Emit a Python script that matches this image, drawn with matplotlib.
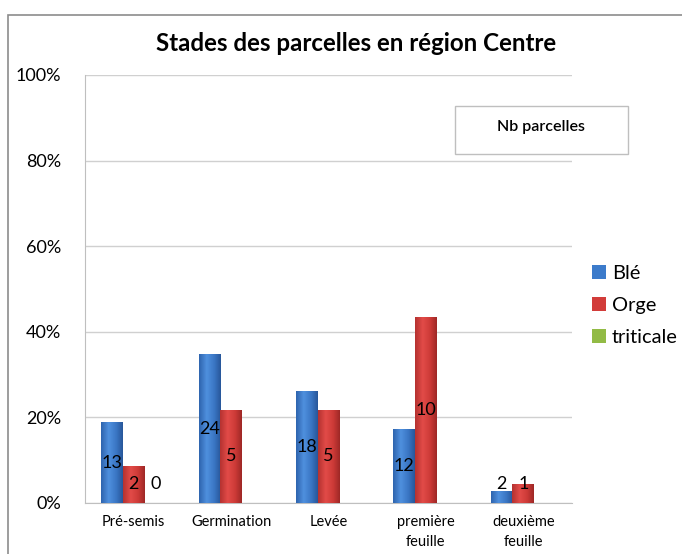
import numpy as np
import matplotlib.pyplot as plt
from matplotlib.patches import Rectangle
from matplotlib.colors import LinearSegmentedColormap

plt.rcParams['font.family'] = ['Lato', 'DejaVu Sans']

# data : nombre de parcelles par stade
stades = ['Pré-semis', 'Germination', 'Levée', 'première\nfeuille', 'deuxième\nfeuille']
series = ['Blé', 'Orge', 'triticale']
ble = [13, 24, 18, 12, 2]
orge = [2, 5, 5, 10, 1]
triticale = [0, 0, 0, 0, 0]

colors = ['#3C7BCB', '#D23C3A', '#92BB45']
# degrades pour imiter le style excel
grads = [['#2E64AE', '#4F90DE', '#3A76C4', '#28579A'],
         ['#B53230', '#E24B48', '#CC3A37', '#9E2826'],
         ['#6E9530', '#A6CF55', '#8DB640', '#64882A']]

fig = plt.figure(figsize=(6.82, 5.54), dpi=100)
ax = fig.add_axes([0.1246, 0.0921, 0.714, 0.7726])

# cadre autour du graphique
fig.patches.append(Rectangle((8 / 682, -0.1), 1.2, 1 - 15 / 554 + 0.1, transform=fig.transFigure,
                             fill=False, edgecolor='#8c8c8c', lw=1.2))

x = np.arange(len(stades))
w = 1 / 4.5
grad = np.linspace(0, 1, 64).reshape(1, -1)
all_counts = [ble, orge, triticale]
for i, counts in enumerate(all_counts):
    tot = sum(counts)
    pct = np.array(counts) / tot if tot > 0 else np.zeros(len(counts))
    pos = x + (i - 1) * w
    cmap = LinearSegmentedColormap.from_list('g%d' % i, list(zip([0, 0.35, 0.7, 1], grads[i])))
    bars = ax.bar(pos, pct, width=w, color=colors[i], edgecolor='none',
                  label=series[i], zorder=3)
    for b in bars:
        if b.get_height() <= 0:
            continue
        x0, h = b.get_x(), b.get_height()
        im = ax.imshow(grad, cmap=cmap, extent=[x0, x0 + w, 0, h], aspect='auto', zorder=3.1)
        im.set_clip_path(b)
    for p, v, c in zip(pos, pct, counts):
        if tot == 0 and p != pos[0]:
            continue
        ax.text(p, max(v / 2, 0.045), str(c), ha='center', va='center',
                fontsize=13, color='black', zorder=4)

ax.set_xlim(-0.5, len(stades) - 0.5)
ax.set_ylim(0, 1)
ax.set_yticks(np.arange(0, 1.01, 0.2))
ax.set_yticklabels(['%d%%' % (t * 100) for t in np.arange(0, 1.01, 0.2)], fontsize=13)
ax.set_xticks(x)
ax.set_xticklabels(stades, fontsize=10.5, linespacing=1.5)
ax.tick_params(axis='y', length=0, pad=17)
ax.tick_params(axis='x', length=0, pad=9)
ax.grid(axis='y', color='#d0d0d0', lw=1, zorder=0)
for s in ['top', 'right']:
    ax.spines[s].set_visible(False)
for s in ['left', 'bottom']:
    ax.spines[s].set_color('#bfbfbf')

fig.text(356 / 682, 0.922, 'Stades des parcelles en région Centre', ha='center', va='center',
         fontsize=17.4, fontweight='bold')

# boite "Nb parcelles"
fig.patches.append(Rectangle((455 / 682, 1 - 154 / 554), 173 / 682, 48 / 554,
                             transform=fig.transFigure, fill=False,
                             edgecolor='#bfbfbf', lw=1))
fig.text(541 / 682, 1 - 127 / 554, 'Nb parcelles', ha='center', va='center',
         fontsize=11.5, fontweight='semibold')

ax.legend(loc='upper left', bbox_to_anchor=(574 / 682, 1 - 247 / 554),
          bbox_transform=fig.transFigure, frameon=False, fontsize=14.4,
          handlelength=0.7, handleheight=0.7, handletextpad=0.3, labelspacing=0.74)

fig.savefig('out.png', dpi=100)
